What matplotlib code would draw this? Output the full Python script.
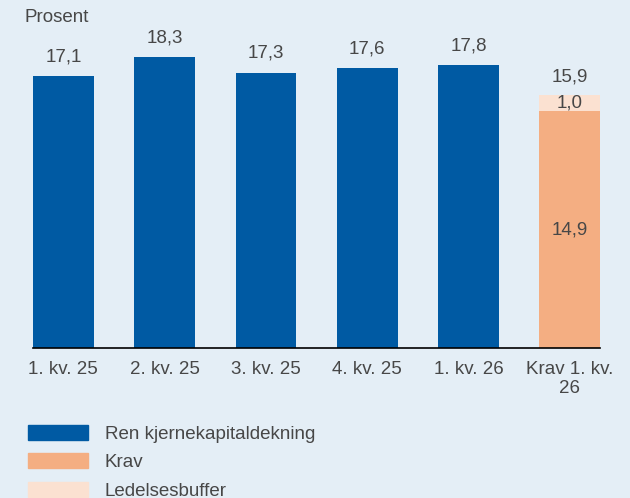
import matplotlib
matplotlib.use("Agg")
import matplotlib.pyplot as plt
from matplotlib.patches import Patch

categories = ["1. kv. 25", "2. kv. 25", "3. kv. 25", "4. kv. 25", "1. kv. 26", "Krav 1. kv.\n26"]
ren_kjerne = [17.1, 18.3, 17.3, 17.6, 17.8]
krav = [14.9]
ledelsesbuffer = [1.0]
legend_labels = ["Ren kjernekapitaldekning", "Krav", "Ledelsesbuffer"]

BLUE = "#005aa3"
ORANGE = "#f4ae82"
LIGHT = "#fbe1d1"
BG = "#e4eef6"
TXT = "#474747"

plt.rcParams['font.family'] = ['Liberation Sans', 'DejaVu Sans']

fig = plt.figure(figsize=(6.3, 4.98), dpi=100, facecolor=BG)
ax = fig.add_axes([33/630, 1-348/498, 567/630, 318/498])
ax.set_facecolor(BG)

x = list(range(len(categories)))
w = 0.6
ax.bar(x[:5], ren_kjerne, width=w, color=BLUE)
ax.bar(x[5], krav, width=w, color=ORANGE)
ax.bar(x[5], ledelsesbuffer, width=w, bottom=krav, color=LIGHT)

fs = 13.5
def fmt(v):
    return f"{v:.1f}".replace(".", ",")

for xi, v in zip(x[:5], ren_kjerne):
    ax.annotate(fmt(v), (xi, v), xytext=(0, 14), textcoords="offset points",
                ha="center", va="center", fontsize=fs, color=TXT)
tot = krav[0] + ledelsesbuffer[0]
ax.annotate(fmt(tot), (x[5], tot), xytext=(0, 13), textcoords="offset points",
            ha="center", va="center", fontsize=fs, color=TXT)
ax.text(x[5], krav[0] + ledelsesbuffer[0]/2, fmt(ledelsesbuffer[0]),
        ha="center", va="center", fontsize=fs, color=TXT)
ax.text(x[5], krav[0]/2, fmt(krav[0]),
        ha="center", va="center", fontsize=fs, color=TXT)

ax.set_xlim(-0.3, 5.3)
ax.set_ylim(0, 20)
ax.set_xticks(x)
ax.set_xticklabels(categories, fontsize=fs, color=TXT, linespacing=1.15)
ax.tick_params(axis="x", length=0, pad=9.5)
ax.set_yticks([])
for s in ["top", "right", "left"]:
    ax.spines[s].set_visible(False)
ax.spines["bottom"].set_color("black")
ax.spines["bottom"].set_linewidth(1.2)

fig.text(25/630, 1-17/498, "Prosent", ha="left", va="center", fontsize=fs, color=TXT)

handles = [Patch(color=BLUE), Patch(color=ORANGE), Patch(color=LIGHT)]
fig.legend(handles, legend_labels, loc="upper left", bbox_to_anchor=(28/630, 1-425/498),
           frameon=False, fontsize=fs, labelcolor=TXT, handlelength=3.2, handleheight=0.85,
           labelspacing=0.55, handletextpad=0.9, borderpad=0, borderaxespad=0)

fig.savefig("out.png", dpi=100, facecolor=BG)
